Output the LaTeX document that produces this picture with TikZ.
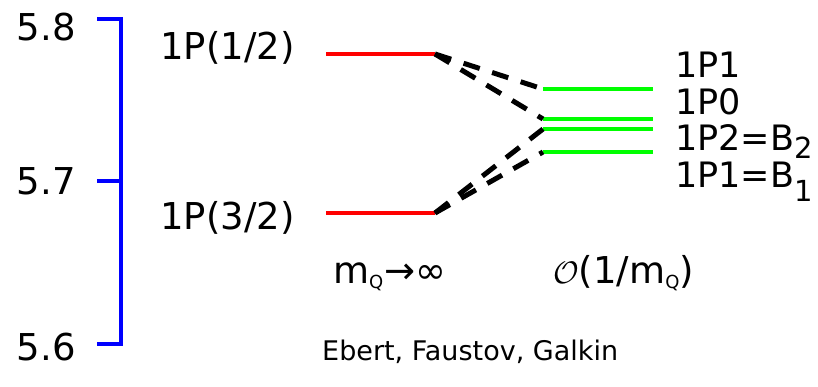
\documentclass[tikz,border=0pt]{standalone}
\usepackage{fontspec}
\usepackage{graphicx}
\setmainfont{DejaVu Sans}
\definecolor{axisblue}{RGB}{0,0,255}
\definecolor{lvred}{RGB}{255,0,0}
\definecolor{lvgreen}{RGB}{0,255,0}
\newcommand{\lowsub}[3]{\raisebox{-#2}{\fontsize{#1}{#1}\selectfont #3}}
\begin{document}
\begin{tikzpicture}[x=1pt,y=-1pt,
  big/.style={font=\fontsize{37}{40}\selectfont, inner sep=0pt},
  lab/.style={font=\fontsize{35}{38}\selectfont, inner sep=0pt, anchor=base west},
  small/.style={font=\fontsize{27}{30}\selectfont, inner sep=0pt},
  axisline/.style={axisblue, line width=3.5pt},
  redlevel/.style={lvred, line width=4pt},
  greenlevel/.style={lvgreen, line width=4.5pt},
  mix/.style={black, line width=5pt, dash pattern=on 17pt off 13pt}]
\useasboundingbox[fill=white] (0,0) rectangle (818,387);
% axis
\coordinate (atop) at (121,19);
\coordinate (amid) at (121,181);
\coordinate (abot) at (121,344);
\draw[axisline] (97,19) -- (atop) -- (abot) -- (97,344);
\draw[axisline] (97,181) -- (amid);
\node[big, anchor=east] (t58) at (76,27) {5.8};
\node[big, anchor=east] (t57) at (76,181) {5.7};
\node[big, anchor=east] (t56) at (76,347) {5.6};
% red levels
\coordinate (r1a) at (326,54);
\coordinate (r1b) at (435,54);
\coordinate (r2a) at (326,213);
\coordinate (r2b) at (435,213);
\draw[redlevel] (r1a) -- (r1b);
\draw[redlevel] (r2a) -- (r2b);
\node[big, anchor=west] (l12) at (160,48) {1P(1/2)};
\node[big, anchor=west] (l32) at (160,218) {1P(3/2)};
% green levels
\coordinate (g1a) at (543,89);  \coordinate (g1b) at (653,89);
\coordinate (g2a) at (543,119); \coordinate (g2b) at (653,119);
\coordinate (g3a) at (543,129); \coordinate (g3b) at (653,129);
\coordinate (g4a) at (543,152); \coordinate (g4b) at (653,152);
\draw[greenlevel] (g1a) -- (g1b);
\draw[greenlevel] (g2a) -- (g2b);
\draw[greenlevel] (g3a) -- (g3b);
\draw[greenlevel] (g4a) -- (g4b);
% mixing lines
\draw[mix] (r1b) -- (g1a);
\draw[mix] (r1b) -- (g2a);
\draw[mix] (r2b) -- (g3a);
\draw[mix] (r2b) -- (g4a);
% right labels
\node[lab] (p1) at (675,78) {1P1};
\node[lab] (p0) at (675,115) {1P0};
\node[lab] (p2) at (675,151) {1P2=B\lowsub{29}{8pt}{2}};
\node[lab] (p1b) at (675,188) {1P1=B\lowsub{29}{14pt}{1}};
% bottom labels
\node[big, anchor=base west] (minf) at (333,283) {m\lowsub{18}{5pt}{Q}\kern1pt→∞};
\node[big, anchor=base west] (order) at (553,283) {\scalebox{1.25}{$\mathcal{O}$}(1/m\lowsub{18}{5pt}{Q})};
\node[small, anchor=base west] (auth) at (322,360) {Ebert, Faustov, Galkin};
\end{tikzpicture}
\end{document}
